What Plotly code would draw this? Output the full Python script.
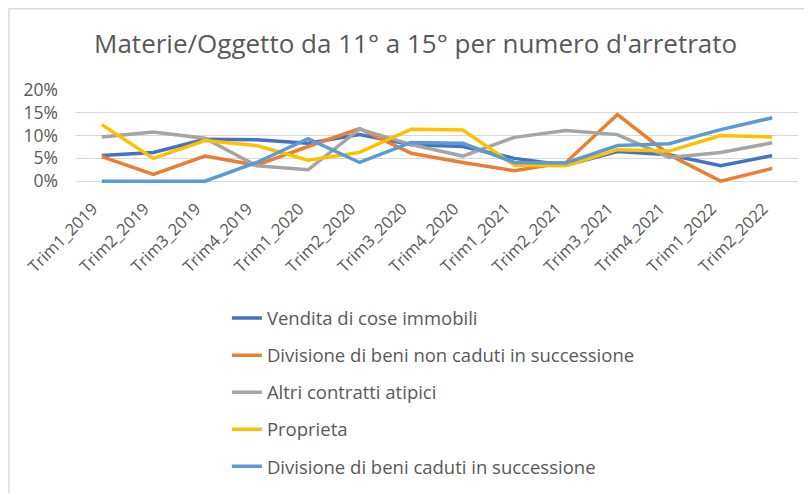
import plotly.graph_objects as go

categories = ["Trim1_2019", "Trim2_2019", "Trim3_2019", "Trim4_2019", "Trim1_2020", "Trim2_2020",
              "Trim3_2020", "Trim4_2020", "Trim1_2021", "Trim2_2021", "Trim3_2021", "Trim4_2021",
              "Trim1_2022", "Trim2_2022"]

vendita = [0.056, 0.063, 0.092, 0.091, 0.083, 0.102, 0.080, 0.076, 0.050, 0.035, 0.065, 0.058, 0.034, 0.056]
div_non_caduti = [0.054, 0.015, 0.055, 0.035, 0.076, 0.115, 0.061, 0.041, 0.023, 0.041, 0.146, 0.058, 0.0, 0.028]
altri = [0.097, 0.108, 0.094, 0.034, 0.025, 0.114, 0.080, 0.055, 0.096, 0.111, 0.102, 0.052, 0.063, 0.084]
proprieta = [0.124, 0.050, 0.089, 0.078, 0.046, 0.063, 0.114, 0.112, 0.035, 0.034, 0.069, 0.066, 0.100, 0.097]
div_caduti = [0.0, 0.0, 0.0, 0.041, 0.093, 0.041, 0.085, 0.083, 0.041, 0.040, 0.078, 0.082, 0.113, 0.139]

series = [
    ("Vendita di cose immobili", vendita, "#4472C4"),
    ("Divisione di beni non caduti in successione", div_non_caduti, "#ED7D31"),
    ("Altri contratti atipici", altri, "#A5A5A5"),
    ("Proprieta", proprieta, "#FFC000"),
    ("Divisione di beni caduti in successione", div_caduti, "#5B9BD5"),
]

FONT = "Open Sans"
fig = go.Figure()
for i, (name, vals, col) in enumerate(series):
    fig.add_trace(go.Scatter(x=categories, y=vals, name=name, mode="lines",
                             line=dict(color=col, width=3.5), legendgroup=str(i)))

# figure sits 8px in from the page edge (body margin); plot area: x 76..798, y(20%)=90, y(0%)=181
fig.update_layout(
    width=804, height=485,
    paper_bgcolor="white", plot_bgcolor="white",
    margin=dict(l=68, r=14, t=81, b=310, autoexpand=False),
    title=dict(text="Materie/Oggetto da 11° a 15° per numero d'arretrato",
               x=0.507, xanchor="center", y=0.925, yanchor="middle",
               font=dict(family=FONT, size=26, color="#595959")),
    font=dict(family=FONT, color="#595959"),
    xaxis=dict(type="category", range=[-0.5, 13.5], tickangle=-45, automargin=False,
               tickfont=dict(size=16.5, color="#595959"), ticklabelstandoff=12,
               ticklabelshift=-9,
               showgrid=False, showline=False, ticks=""),
    yaxis=dict(range=[-0.004, 0.202], tickvals=[0, 0.05, 0.10, 0.15, 0.20], tickformat=".0%",
               automargin=False, ticklabelstandoff=17,
               tickfont=dict(size=17.5, color="#595959"), showgrid=True, gridcolor="#D9D9D9",
               gridwidth=1, zeroline=False, showline=False, ticks=""),
    showlegend=True,
    legend=dict(x=0.209, xanchor="left", y=-1.24, yanchor="top", orientation="v",
                traceorder="grouped", tracegroupgap=10,
                font=dict(family=FONT, size=18.5, color="#595959"), bgcolor="rgba(0,0,0,0)"),
    shapes=[dict(type="rect", xref="paper", yref="paper", x0=-0.0928, x1=1.03, y0=-3.6, y1=1.855,
                 line=dict(color="#D9D9D9", width=1.5))],
)

fig.write_html("out.html")
